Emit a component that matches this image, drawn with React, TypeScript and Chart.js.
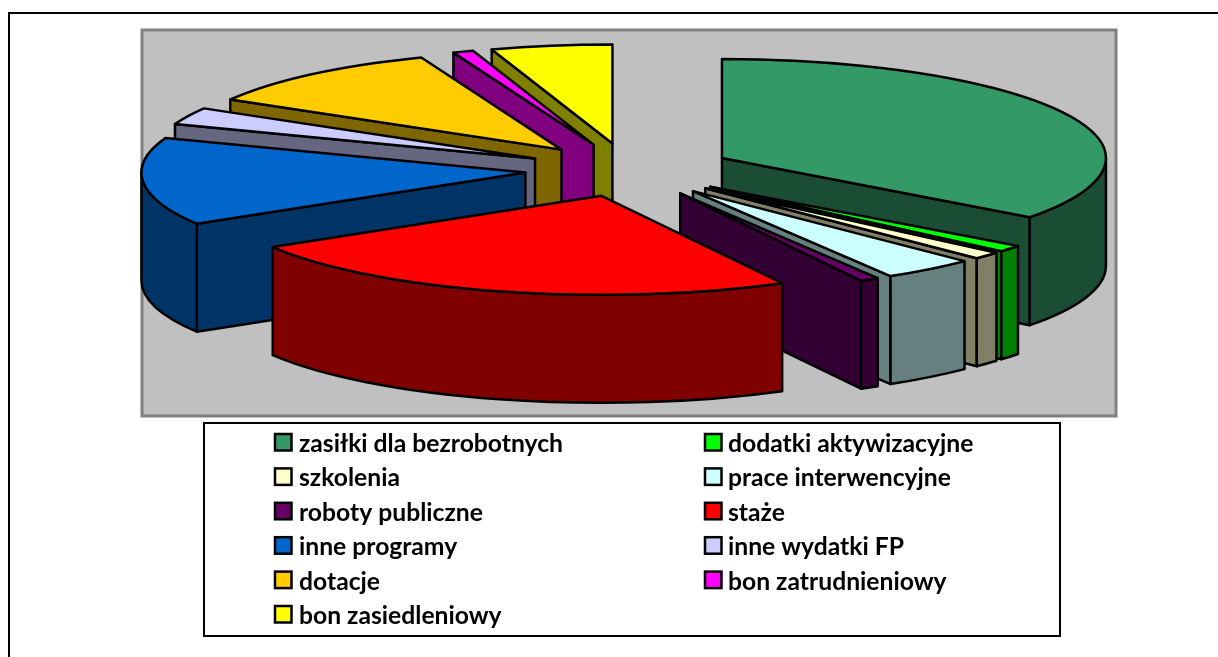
import React, { useEffect, useRef } from "react";
import { Chart, registerables } from "chart.js";

Chart.register(...registerables);

const categories = [
  "zasiłki dla bezrobotnych",
  "dodatki aktywizacyjne",
  "szkolenia",
  "prace interwencyjne",
  "roboty publiczne",
  "staże",
  "inne programy",
  "inne wydatki FP",
  "dotacje",
  "bon zatrudnieniowy",
  "bon zasiedleniowy",
];
const shares = [35.2, 1.1, 1.2, 3.9, 0.8, 24.15, 14.3, 2.8, 10.6, 0.86, 5.09];
const topColors = ["#339966", "#00FF00", "#FFFFCC", "#CCFFFF", "#660066", "#FF0000", "#0066CC", "#CCCCFF", "#FFCC00", "#FF00FF", "#FFFF00"];
const sideColors = ["#1A4D33", "#008000", "#808066", "#668080", "#330033", "#800000", "#003366", "#666680", "#806600", "#800080", "#808000"];

const RX = 384;
const RY = 99;
const DEPTH = 108;
const EXPLODE = 104;
const LIFT = 53;

const pie3d = {
  id: "pie3d",
  beforeDraw(chart: any) {
    const { ctx, chartArea: a } = chart;
    ctx.save();
    ctx.fillStyle = "#FFFFFF";
    ctx.fillRect(0, 0, chart.width, chart.height);
    ctx.strokeStyle = "#000000";
    ctx.lineWidth = 2;
    ctx.beginPath();
    ctx.moveTo(9, 657);
    ctx.lineTo(9, 13);
    ctx.lineTo(1218, 13);
    ctx.stroke();
    ctx.fillStyle = "#C0C0C0";
    ctx.strokeStyle = "#808080";
    ctx.lineWidth = 3;
    ctx.fillRect(a.left, a.top, a.right - a.left, a.bottom - a.top);
    ctx.strokeRect(a.left, a.top, a.right - a.left, a.bottom - a.top);
    ctx.restore();
  },
  beforeDatasetDraw(chart: any) {
    const { ctx } = chart;
    const arcs = chart.getDatasetMeta(0).data;
    const order = arcs
      .map((_: any, i: number) => i)
      .sort((p: number, q: number) => {
        const m = (k: number) => Math.sin((arcs[k].startAngle + arcs[k].endAngle) / 2);
        return m(p) - m(q);
      });
    ctx.save();
    ctx.strokeStyle = "#000000";
    ctx.lineWidth = 2.5;
    ctx.lineJoin = "round";
    for (const i of order) {
      const arc = arcs[i];
      const s = arc.startAngle;
      const e = arc.endAngle;
      const mid = (s + e) / 2;
      const cx = arc.x + EXPLODE * Math.cos(mid);
      const cy = arc.y - LIFT + EXPLODE * (RY / RX) * Math.sin(mid);
      const rim = (t: number) => [cx + RX * Math.cos(t), cy + RY * Math.sin(t)];
      const face = (t: number) => {
        const [x, y] = rim(t);
        ctx.beginPath();
        ctx.moveTo(cx, cy);
        ctx.lineTo(x, y);
        ctx.lineTo(x, y + DEPTH);
        ctx.lineTo(cx, cy + DEPTH);
        ctx.closePath();
        ctx.fillStyle = sideColors[i];
        ctx.fill();
        ctx.stroke();
      };
      if (Math.cos(s) < -1e-6) face(s);
      if (Math.cos(e) > 1e-6) face(e);
      const a0 = Math.max(s, 0);
      const b0 = Math.min(e, Math.PI);
      if (b0 > a0) {
        ctx.beginPath();
        ctx.ellipse(cx, cy, RX, RY, 0, a0, b0);
        ctx.ellipse(cx, cy + DEPTH, RX, RY, 0, b0, a0, true);
        ctx.closePath();
        ctx.fillStyle = sideColors[i];
        ctx.fill();
        ctx.stroke();
      }
      ctx.beginPath();
      ctx.moveTo(cx, cy);
      ctx.ellipse(cx, cy, RX, RY, 0, s, e);
      ctx.closePath();
      ctx.fillStyle = arc.options.backgroundColor;
      ctx.fill();
      ctx.stroke();
    }
    ctx.restore();
    return false;
  },
  afterDraw(chart: any) {
    const { ctx } = chart;
    ctx.save();
    ctx.strokeStyle = "#000000";
    ctx.lineWidth = 2;
    ctx.fillStyle = "#FFFFFF";
    ctx.fillRect(204, 423, 856, 213);
    ctx.strokeRect(204, 423, 856, 213);
    ctx.font = "bold 24.7px Lato";
    ctx.textBaseline = "middle";
    ctx.textAlign = "left";
    chart.data.labels.forEach((label: string, i: number) => {
      const col = i % 2;
      const row = Math.floor(i / 2);
      const x = col === 0 ? 275 : 705;
      const y = 442 + row * 34.4;
      ctx.fillStyle = topColors[i];
      ctx.lineWidth = 2.5;
      ctx.fillRect(x, y - 8, 16.5, 16.5);
      ctx.strokeRect(x, y - 8, 16.5, 16.5);
      ctx.fillStyle = "#000000";
      ctx.fillText(label, col === 0 ? x + 24 : x + 23, y + 2);
    });
    ctx.restore();
  },
};

export default function App() {
  const ref = useRef<HTMLCanvasElement | null>(null);
  useEffect(() => {
    const chart = new Chart(ref.current as HTMLCanvasElement, {
      type: "pie",
      data: {
        labels: categories,
        datasets: [{ data: shares, backgroundColor: topColors, borderWidth: 0 }],
      },
      options: {
        animation: false,
        responsive: false,
        layout: { padding: { left: 142, top: 30, right: 102, bottom: 241 } },
        plugins: { legend: { display: false }, tooltip: { enabled: false }, title: { display: false } },
      },
      plugins: [pie3d],
    } as any);
    return () => chart.destroy();
  }, []);
  return (
    <div style={{ position: "absolute", left: 0, top: 0, width: 1218, height: 657, overflow: "hidden" }}>
      <canvas ref={ref} width={1218} height={657} style={{ display: "block" }} />
    </div>
  );
}
